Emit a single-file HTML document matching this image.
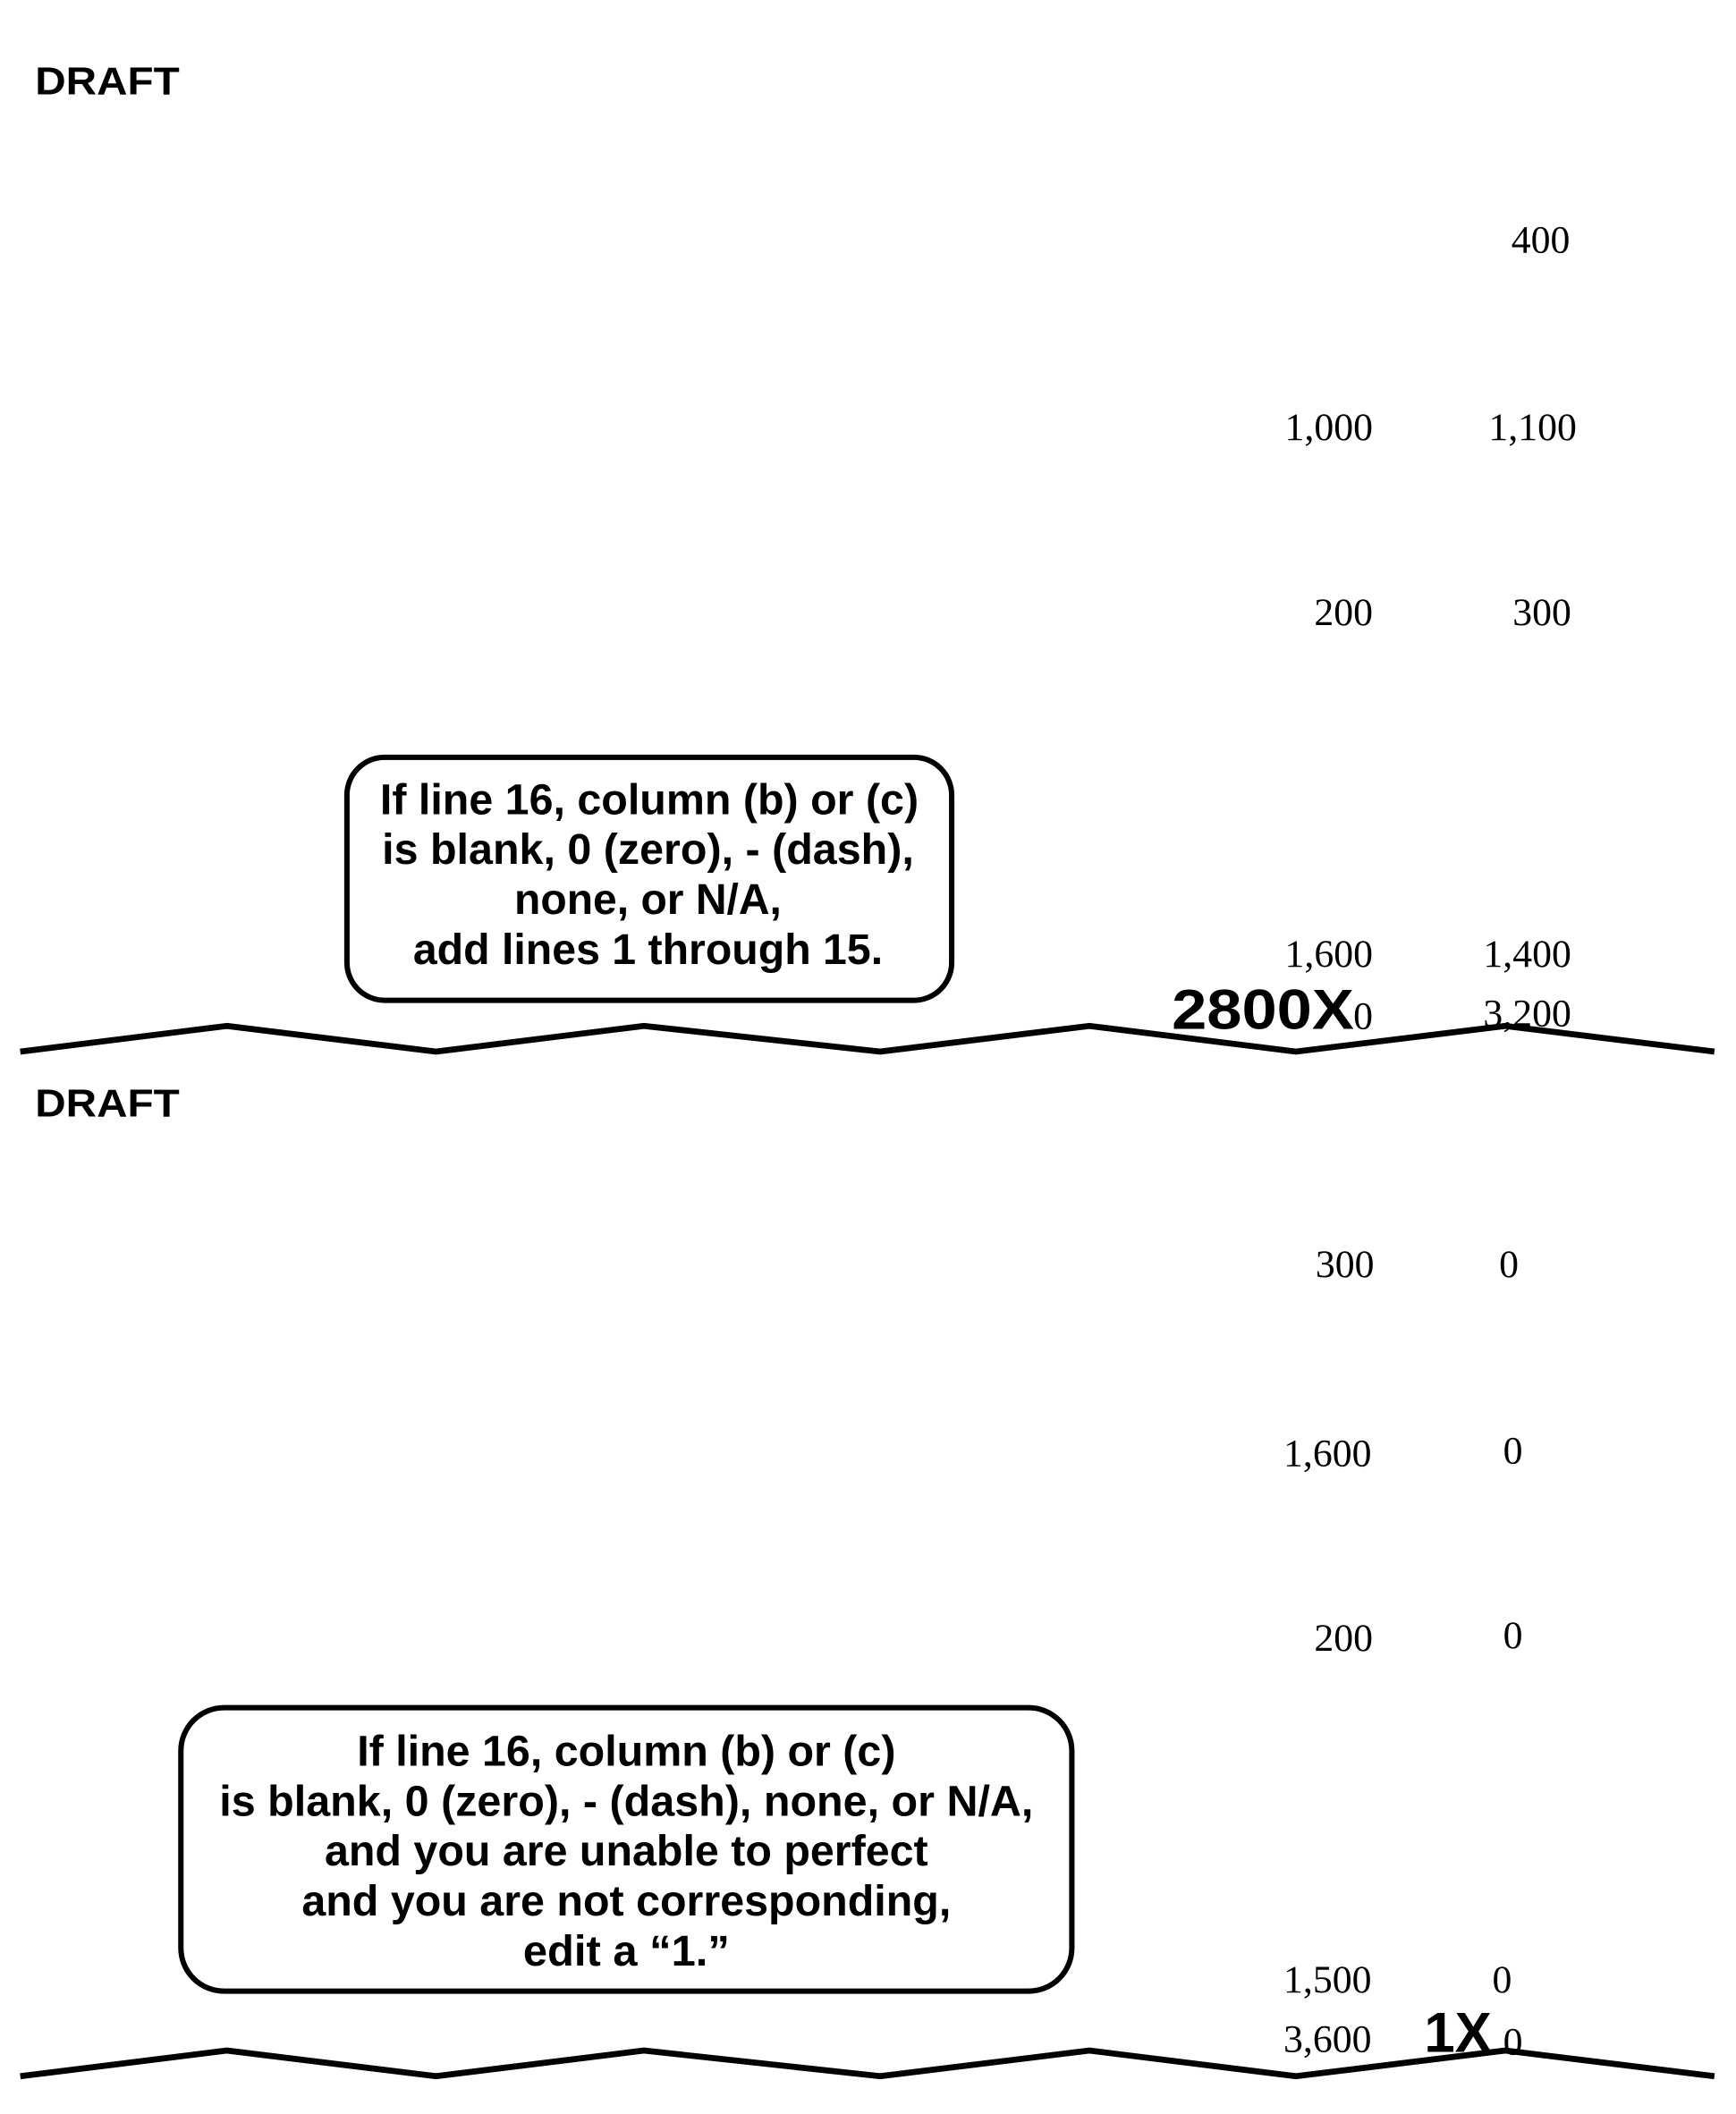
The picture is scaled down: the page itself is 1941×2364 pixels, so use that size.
<!DOCTYPE html>
<html><head><meta charset="utf-8"><style>html,body{margin:0;padding:0;background:#fff}svg{display:block}</style></head>
<body>
<svg width="1941" height="2364" viewBox="0 0 1286 1566" preserveAspectRatio="none" xmlns="http://www.w3.org/2000/svg">
<rect width="1286" height="1566" fill="#fff"/>
<g fill="none" stroke="#000" stroke-width="4.5" stroke-linejoin="miter">
<polyline points="15,779 168,760 323,779 477,760 652,779 807,760 960,779 1115,760 1270,779"/>
<polyline points="15,1538 168,1519 323,1538 477,1519 652,1538 807,1519 960,1538 1115,1519 1270,1538"/>
<rect x="257" y="561" width="448" height="180" rx="28" stroke-width="4"/>
<rect x="134" y="1265" width="660" height="210" rx="32" stroke-width="4"/>
</g>
<g font-family="Liberation Sans, Arial, sans-serif" font-weight="bold" fill="#000">
<text x="26" y="70" font-size="29" textLength="107" lengthAdjust="spacingAndGlyphs">DRAFT</text>
<text x="26" y="827" font-size="29" textLength="107" lengthAdjust="spacingAndGlyphs">DRAFT</text>
<g font-size="32" text-anchor="middle">
<text x="481" y="603" textLength="399" lengthAdjust="spacingAndGlyphs">If line 16, column (b) or (c)</text>
<text x="480" y="640" textLength="394" lengthAdjust="spacingAndGlyphs">is blank, 0 (zero), - (dash),</text>
<text x="480" y="677" textLength="198" lengthAdjust="spacingAndGlyphs">none, or N/A,</text>
<text x="480" y="714" textLength="348" lengthAdjust="spacingAndGlyphs">add lines 1 through 15.</text>
<text x="464" y="1308" textLength="399" lengthAdjust="spacingAndGlyphs">If line 16, column (b) or (c)</text>
<text x="464" y="1345" textLength="603" lengthAdjust="spacingAndGlyphs">is blank, 0 (zero), - (dash), none, or N/A,</text>
<text x="464" y="1382" textLength="447" lengthAdjust="spacingAndGlyphs">and you are unable to perfect</text>
<text x="464" y="1419" textLength="481" lengthAdjust="spacingAndGlyphs">and you are not corresponding,</text>
<text x="464" y="1456" textLength="153" lengthAdjust="spacingAndGlyphs">edit a “1.”</text>
</g>
<text x="868" y="762" font-size="42" textLength="135" lengthAdjust="spacingAndGlyphs">2800X</text>
<text x="1055" y="1520" font-size="42" textLength="50" lengthAdjust="spacingAndGlyphs">1X</text>
</g>
<g font-family="Liberation Serif, Times New Roman, serif" font-size="29" fill="#000" text-anchor="end">
<text x="1163" y="187">400</text>
<text x="1017" y="326">1,000</text>
<text x="1168" y="326">1,100</text>
<text x="1017" y="463">200</text>
<text x="1164" y="463">300</text>
<text x="1017" y="716">1,600</text>
<text x="1164" y="716">1,400</text>
<text x="1017" y="762">0</text>
<text x="1164" y="760">3,200</text>
<text x="1018" y="946">300</text>
<text x="1125" y="946">0</text>
<text x="1016" y="1086">1,600</text>
<text x="1128" y="1084">0</text>
<text x="1017" y="1223">200</text>
<text x="1128" y="1221">0</text>
<text x="1016" y="1476">1,500</text>
<text x="1120" y="1476">0</text>
<text x="1016" y="1520">3,600</text>
<text x="1128" y="1522">0</text>
</g>
</svg>
</body></html>
